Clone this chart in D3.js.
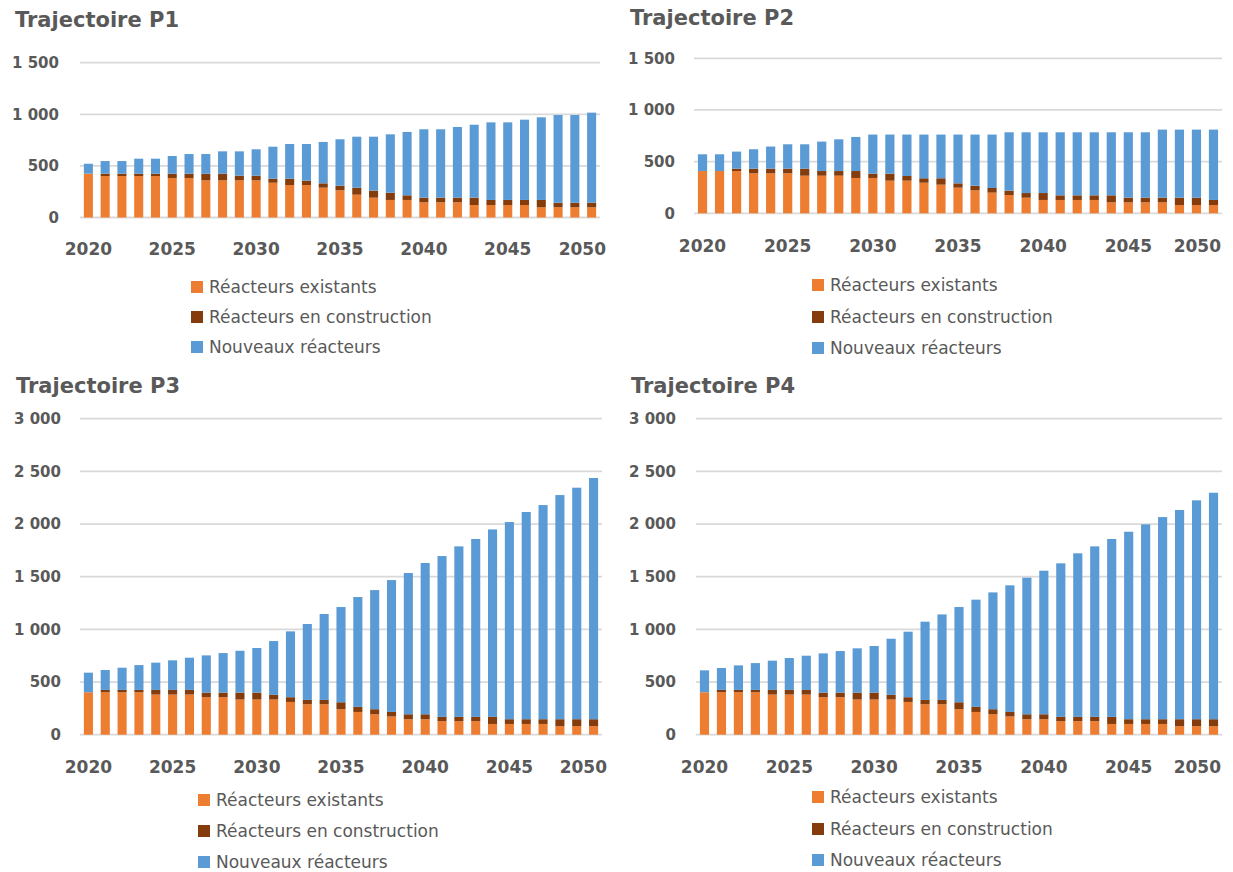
<!DOCTYPE html>
<html>
<head>
<meta charset="utf-8">
<script src="https://cdn.jsdelivr.net/npm/d3@7"></script>
<style>
  html, body { margin: 0; padding: 0; background: #ffffff; }
  svg { display: block; }
</style>
</head>
<body>
<svg id="chart" width="1233" height="872"></svg>
<script>
// ---------------- DATA ----------------
const years = d3.range(2020, 2051);
const yearTickLabels = [2020, 2025, 2030, 2035, 2040, 2045, 2050];
const seriesNames = ["Réacteurs existants", "Réacteurs en construction", "Nouveaux réacteurs"];
const seriesColors = ["#ED7D31", "#843C0C", "#5B9BD5"];

const p1Existing = [425,402,402,402,402,383,383,360,360,360,360,337,315,315,289,264,221,192,170,170,147,147,147,121,121,121,121,99,99,99,99];
const p1Construction = [0,22,22,22,22,41,41,64,64,45,45,39,61,42,42,44,68,68,70,45,45,45,45,71,49,49,49,71,44,44,44];
const p1New = [96,123,123,146,146,172,191,191,217,236,256,310,336,355,401,450,494,523,566,614,663,663,685,707,752,752,778,801,850,850,873];

const p2Existing = [409,409,409,387,387,387,364,364,364,342,342,316,316,296,277,248,222,200,177,151,129,129,129,129,106,106,106,106,80,80,80];
const p2Construction = [0,0,23,45,45,45,68,45,45,67,41,67,45,43,62,42,45,45,42,45,67,45,45,45,68,45,45,45,71,71,49];
const p2New = [162,162,165,188,214,236,236,285,307,330,379,379,401,423,423,472,495,517,565,588,588,610,610,610,610,633,633,659,659,659,681];

const p3Existing = [403,403,403,403,381,381,381,356,356,334,334,334,311,289,289,242,216,194,173,147,147,128,128,128,102,102,102,102,81,81,81];
const p3Construction = [0,22,22,22,44,44,44,44,44,66,66,44,45,41,41,66,48,48,43,47,47,41,41,41,67,45,45,45,66,66,66];
const p3New = [186,189,211,236,259,281,306,353,375,397,423,511,625,721,816,904,1043,1131,1252,1341,1436,1527,1619,1689,1780,1872,1967,2033,2128,2198,2290];

const p4Existing = [403,403,403,403,381,381,381,356,356,334,334,334,311,289,289,242,216,194,173,147,147,128,128,128,102,102,102,102,81,81,81];
const p4Construction = [0,22,22,22,44,44,44,44,44,66,66,44,45,41,41,66,48,48,43,47,47,41,41,41,67,45,45,45,66,66,66];
const p4New = [208,208,233,255,278,303,325,372,394,420,442,533,622,743,812,904,1018,1109,1202,1297,1363,1458,1553,1619,1689,1780,1850,1919,1986,2078,2150];

const smallTicks = [0, 500, 1000, 1500];
const bigTicks = [0, 500, 1000, 1500, 2000, 2500, 3000];

// ---------------- LAYOUT ----------------
const panels = [
  { title: "Trajectoire P1", series: [p1Existing, p1Construction, p1New], ticks: smallTicks, yMax: 1500,
    titleX: 15, titleY: 27, x0: 80, x1: 600, y0: 217.5, y1: 62.7, yearY: 255, tickX: 59, labelMax: 606,
    legX: 191, legY: [287, 317, 347] },
  { title: "Trajectoire P2", series: [p2Existing, p2Construction, p2New], ticks: smallTicks, yMax: 1500,
    titleX: 630, titleY: 25, x0: 694, x1: 1222, y0: 213.3, y1: 58.3, yearY: 252, tickX: 675, labelMax: 1221,
    legX: 812, legY: [285, 317, 348] },
  { title: "Trajectoire P3", series: [p3Existing, p3Construction, p3New], ticks: bigTicks, yMax: 3000,
    titleX: 16, titleY: 393, x0: 80, x1: 602, y0: 734.7, y1: 418.7, yearY: 772.5, tickX: 61, labelMax: 607,
    legX: 198, legY: [800, 831, 862] },
  { title: "Trajectoire P4", series: [p4Existing, p4Construction, p4New], ticks: bigTicks, yMax: 3000,
    titleX: 631, titleY: 393, x0: 696, x1: 1222, y0: 734.7, y1: 418.7, yearY: 772.5, tickX: 676, labelMax: 1221,
    legX: 812, legY: [797, 829, 860] }
];

const textColor = "#595959";
const gridColor = "#D9D9D9";
const locale = d3.formatLocale({ decimal: ",", thousands: " ", grouping: [3], currency: ["", " €"] });
const fmt = locale.format(",");

const svg = d3.select("#chart");

panels.forEach(p => {
  const g = svg.append("g");
  const x = d3.scaleBand().domain(years).range([p.x0, p.x1]).paddingInner(0.46).paddingOuter(0.23);
  const y = d3.scaleLinear().domain([0, p.yMax]).range([p.y0, p.y1]);

  // title
  g.append("text")
    .attr("x", p.titleX).attr("y", p.titleY)
    .attr("font-family", "DejaVu Sans, sans-serif")
    .attr("font-weight", "bold")
    .attr("font-size", 21)
    .attr("fill", textColor)
    .text(p.title);

  // gridlines
  g.selectAll("line.grid").data(p.ticks).enter().append("line")
    .attr("class", "grid")
    .attr("x1", p.x0).attr("x2", p.x1)
    .attr("y1", d => y(d)).attr("y2", d => y(d))
    .attr("stroke", gridColor).attr("stroke-width", 1.8);

  // y tick labels
  g.selectAll("text.ytick").data(p.ticks).enter().append("text")
    .attr("class", "ytick")
    .attr("x", p.tickX).attr("y", d => y(d))
    .attr("dy", "0.36em")
    .attr("text-anchor", "end")
    .attr("font-family", "DejaVu Sans, sans-serif")
    .attr("font-weight", "bold")
    .attr("font-size", 15)
    .attr("fill", textColor)
    .text(d => fmt(d));

  // stacked data
  const rows = years.map((yr, i) => ({ year: yr, s0: p.series[0][i], s1: p.series[1][i], s2: p.series[2][i] }));
  const stack = d3.stack().keys(["s0", "s1", "s2"])(rows);

  stack.forEach((layer, li) => {
    g.append("g").attr("fill", seriesColors[li])
      .selectAll("rect").data(layer).enter().append("rect")
      .attr("x", d => x(d.data.year))
      .attr("width", x.bandwidth())
      .attr("y", d => y(d[1]))
      .attr("height", d => Math.max(0, y(d[0]) - y(d[1])));
  });

  // x year labels (kept inside the chart area like the spreadsheet does)
  g.selectAll("text.xtick").data(yearTickLabels).enter().append("text")
    .attr("class", "xtick")
    .attr("x", d => x(d) + x.bandwidth() / 2)
    .attr("y", p.yearY)
    .attr("text-anchor", "middle")
    .attr("font-family", "DejaVu Sans, sans-serif")
    .attr("font-weight", "bold")
    .attr("font-size", 17)
    .attr("fill", textColor)
    .text(d => d)
    .each(function(d) {
      const w = this.getComputedTextLength();
      const cx = x(d) + x.bandwidth() / 2;
      if (cx + w / 2 > p.labelMax) d3.select(this).attr("x", p.labelMax - w / 2);
    });

  // legend
  seriesNames.forEach((name, i) => {
    g.append("rect")
      .attr("x", p.legX).attr("y", p.legY[i] - 6)
      .attr("width", 12).attr("height", 12)
      .attr("fill", seriesColors[i]);
    g.append("text")
      .attr("x", p.legX + 18).attr("y", p.legY[i])
      .attr("dy", "0.36em")
      .attr("font-family", "DejaVu Sans, sans-serif")
      .attr("font-size", 17)
      .attr("fill", textColor)
      .text(name);
  });
});
</script>
</body>
</html>
